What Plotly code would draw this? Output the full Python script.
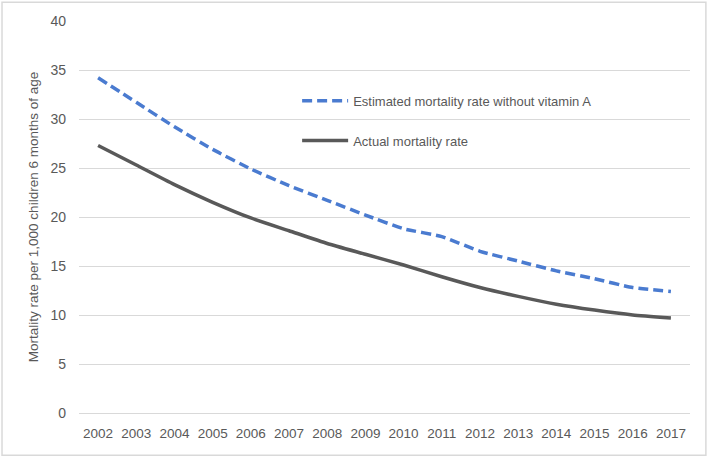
import plotly.graph_objects as go

years = [str(y) for y in range(2002, 2018)]
estimated = [34.2, 31.7, 29.2, 26.9, 24.9, 23.2, 21.7, 20.2, 18.8, 18.0, 16.5, 15.5, 14.5, 13.7, 12.8, 12.4]
actual = [27.3, 25.3, 23.3, 21.5, 19.9, 18.6, 17.3, 16.2, 15.1, 13.9, 12.8, 11.9, 11.1, 10.5, 10.0, 9.7]

name_est = "Estimated mortality rate without vitamin A"
name_act = "Actual mortality rate"
y_title = "Mortality rate per 1,000 children 6 months of age"

txt = "#595959"
grid = "#D9D9D9"
font = "Liberation Sans, Noto Sans, sans-serif"

fig = go.Figure()
fig.add_trace(go.Scatter(
    x=years, y=estimated, name=name_est, mode="lines",
    line=dict(color="#4A7BD0", width=3.5, dash="10px,5px", shape="spline", smoothing=0.5),
    legendgroup="a",
))
fig.add_trace(go.Scatter(
    x=years, y=actual, name=name_act, mode="lines",
    line=dict(color="#595959", width=3.5, shape="spline", smoothing=0.5),
    legendgroup="b",
))

fig.update_layout(
    width=709, height=458,
    margin=dict(l=79, r=19, t=21, b=45),
    paper_bgcolor="white", plot_bgcolor="white",
    font=dict(family=font, size=13, color=txt),
    showlegend=True,
    legend=dict(
        x=0.357, y=0.835, xanchor="left", yanchor="top",
        bgcolor="rgba(0,0,0,0)", font=dict(size=13, color=txt),
        tracegroupgap=20, itemwidth=46,
    ),
    xaxis=dict(
        type="category", range=[-0.5, 15.5], showgrid=False, showline=True,
        linecolor=grid, linewidth=1, ticks="", ticklabelstandoff=8,
        tickfont=dict(size=13.5, color=txt),
    ),
    yaxis=dict(
        range=[0, 40], dtick=5, showgrid=True, gridcolor=grid, gridwidth=1,
        zeroline=False, showline=False, ticks="", ticklabelstandoff=12,
        tickfont=dict(size=14, color=txt),
        title=dict(text=y_title, font=dict(size=13.5, color=txt), standoff=8),
    ),
    shapes=[dict(
        type="rect", xref="paper", yref="paper",
        x0=-0.126, x1=1.026, y0=-0.108, y1=1.048,
        line=dict(color="#D9D9D9", width=1.5),
    )],
)

fig.write_html("out.html", config={"displayModeBar": False},
               post_script="document.body.style.margin='0';")
